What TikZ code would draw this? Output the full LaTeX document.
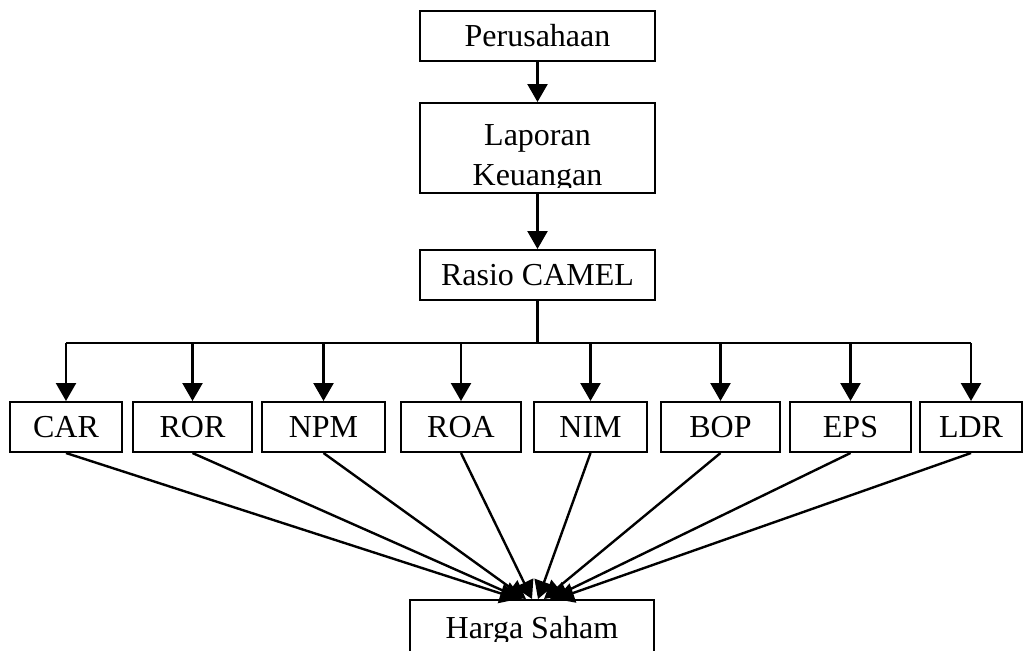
\documentclass[tikz,border=0pt]{standalone}
\usepackage{fontspec}
\setmainfont{Liberation Serif}
\usetikzlibrary{arrows.meta}

\tikzset{
  kotak/.style={draw, line width=1pt, inner sep=0pt, font=\fontsize{16}{20}\selectfont},
  teks/.style={inner sep=0pt, font=\fontsize{16}{20}\selectfont},
  panah/.style={line width=1.2pt, -{Triangle[length=9pt,width=10pt]}},
  garis/.style={line width=1.2pt}
}

\begin{document}
\begin{tikzpicture}[x=0.5pt,y=0.5pt,yscale=-1]
\useasboundingbox (0,0) rectangle (1026,650);

% Perusahaan
\node[kotak, minimum width=117.5pt, minimum height=25pt] (prs) at (537.5,36) {Perusahaan};
% Laporan Keuangan
\node[kotak, minimum width=117.5pt, minimum height=45pt] (lap) at (537.5,148) {};
\begin{scope}
\clip (lap.north west) rectangle (655,187);
\node[teks, anchor=base] (lap1) at (537.5,145) {Laporan};
\node[teks, anchor=base] (lap2) at (537.5,185) {Keuangan};
\end{scope}
% Rasio CAMEL
\node[kotak, minimum width=117.5pt, minimum height=25pt] (rasio) at (537.5,275) {Rasio CAMEL};

\draw[panah] (prs) -- (lap);
\draw[panah] (lap) -- (rasio);

% rasio-rasio
\foreach \nama/\lbl/\x/\w in {car/CAR/66/56,ror/ROR/192.5/59.5,npm/NPM/323.5/61.5,roa/ROA/461/60,
    nim/NIM/590.5/56.5,bop/BOP/720.5/59.5,eps/EPS/850.5/60.5,ldr/LDR/971/51}
  \node[kotak, minimum width=\w pt, minimum height=25pt] (\nama) at (\x,427) {\lbl};

% Harga Saham
\node[kotak, minimum width=122pt, minimum height=30pt] (harga) at (532,630) {};
\begin{scope}
\clip (harga.north west) rectangle (655,641);
\node[teks, anchor=base] (hargatxt) at (532,638) {Harga Saham};
\end{scope}

% garis cabang
\coordinate (tengah) at (537.5,343);
\draw[garis] (rasio.south) -- (tengah);
\draw[garis] (car.north |- tengah) -- (ldr.north |- tengah);
\foreach \nama in {car,ror,npm,roa,nim,bop,eps,ldr}
  \draw[panah] (\nama.north |- tengah) -- (\nama.north);

% ke harga saham
\foreach \nama/\dx in {car/-7,ror/-5,npm/-3,roa/0,nim/3,bop/6,eps/9,ldr/12}
  \draw[panah] (\nama.south) -- ([xshift=\dx pt]harga.north);
\end{tikzpicture}
\end{document}
